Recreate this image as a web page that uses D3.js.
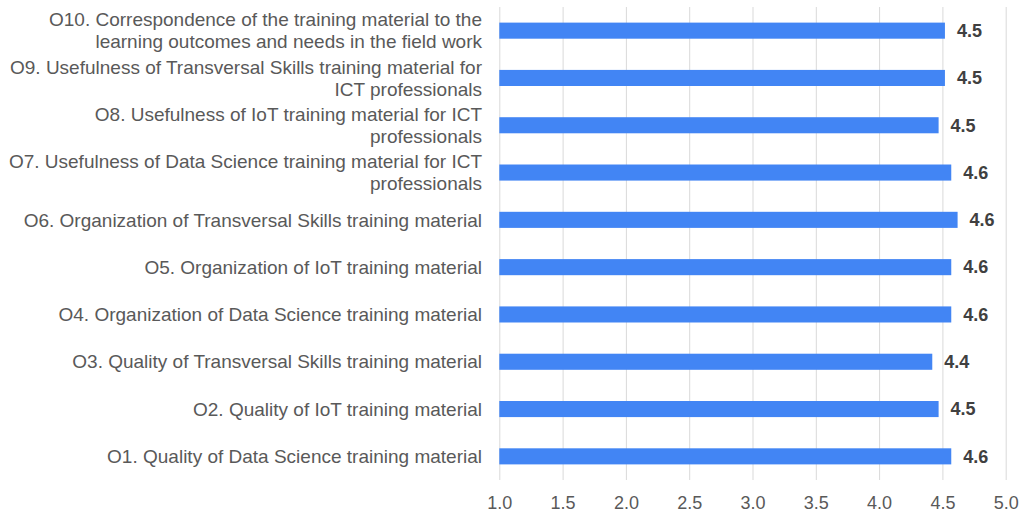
<!DOCTYPE html>
<html>
<head>
<meta charset="utf-8">
<script src="https://cdn.jsdelivr.net/npm/d3@7"></script>
<style>
  body { margin: 0; background: #fff; }
  svg { display: block; font-family: "Liberation Sans", Arial, sans-serif; }
</style>
</head>
<body>
<div id="chart"></div>
<script>
// items, top to bottom as drawn
var labels = [
  ["O10. Correspondence of the training material to the", "learning outcomes and needs in the field work"],
  ["O9. Usefulness of Transversal Skills training material for", "ICT professionals"],
  ["O8. Usefulness of IoT training material for ICT", "professionals"],
  ["O7. Usefulness of Data Science training material for ICT", "professionals"],
  ["O6. Organization of Transversal Skills training material"],
  ["O5. Organization of IoT training material"],
  ["O4. Organization of Data Science training material"],
  ["O3. Quality of Transversal Skills training material"],
  ["O2. Quality of IoT training material"],
  ["O1. Quality of Data Science training material "]
];
var scores = [4.52, 4.52, 4.47, 4.57, 4.62, 4.57, 4.57, 4.42, 4.47, 4.57];
var xTicks = [1.0, 1.5, 2.0, 2.5, 3.0, 3.5, 4.0, 4.5, 5.0];

var width = 1023, height = 513;
var svg = d3.select("#chart").append("svg")
  .attr("width", width)
  .attr("height", height);

var x = d3.scaleLinear().domain([1, 5]).range([499.3, 1005.7]);
var y = d3.scaleBand()
  .domain(d3.range(labels.length))
  .range([7, 480])
  .paddingInner(0.66)
  .paddingOuter(0.33);

// gridlines + tick labels
var xAxis = d3.axisBottom(x)
  .tickValues(xTicks)
  .tickFormat(d3.format(".1f"))
  .tickSize(-(480 - 7))
  .tickPadding(16);

var gx = svg.append("g")
  .attr("transform", "translate(0,480)")
  .call(xAxis);
gx.select(".domain").remove();
gx.selectAll("line").attr("stroke", "#d9d9d9");
gx.selectAll("text")
  .attr("fill", "#595959")
  .style("font-size", "18px")
  .style("font-family", "'Liberation Sans', Arial, sans-serif");

// bars
svg.append("g").selectAll("rect")
  .data(scores)
  .enter().append("rect")
  .attr("x", x(1))
  .attr("y", function(d, i) { return y(i); })
  .attr("width", function(d) { return x(d) - x(1); })
  .attr("height", y.bandwidth())
  .attr("fill", "#4285f4");

// value labels
svg.append("g").selectAll("text")
  .data(scores)
  .enter().append("text")
  .attr("x", function(d) { return x(d) + 12; })
  .attr("y", function(d, i) { return y(i) + y.bandwidth() / 2; })
  .attr("dy", "0.35em")
  .attr("fill", "#404040")
  .style("font-size", "18px")
  .style("font-weight", "bold")
  .text(function(d) { return d3.format(".1f")(d); });

// category labels, right aligned
var lineH = 22;
var lab = svg.append("g").selectAll("text")
  .data(labels)
  .enter().append("text")
  .attr("text-anchor", "end")
  .attr("fill", "#595959")
  .style("font-size", "19px")
  .attr("y", function(d, i) { return y(i) + y.bandwidth() / 2 - (d.length - 1) * lineH / 2; });

lab.selectAll("tspan")
  .data(function(d) { return d; })
  .enter().append("tspan")
  .attr("x", 482)
  .attr("dy", function(d, j) { return j === 0 ? "0.35em" : lineH; })
  .text(function(d) { return d; });
</script>
</body>
</html>
